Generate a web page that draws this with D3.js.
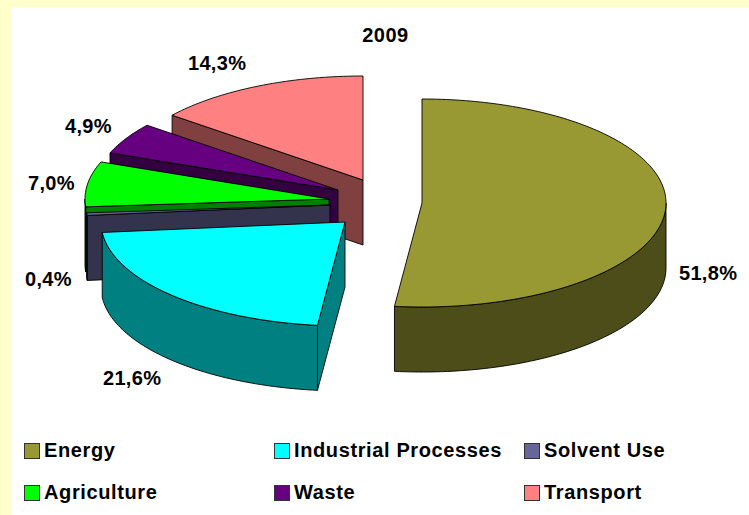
<!DOCTYPE html>
<html>
<head>
<meta charset="utf-8">
<script src="https://cdn.jsdelivr.net/npm/d3@7"></script>
<style>
html,body{margin:0;padding:0;background:#fff;overflow:hidden}
svg{display:block}
text{font-family:"Liberation Sans",Arial,sans-serif;font-weight:bold;fill:#000}
</style>
</head>
<body>
<div id="chart"></div>
<script>
const title = "2009";
const categories = ["Energy","Industrial Processes","Solvent Use","Agriculture","Waste","Transport"];
const values = [51.8,21.6,0.4,7.0,4.9,14.3];
const valueLabels = ["51,8%","21,6%","0,4%","7,0%","4,9%","14,3%"];
const topColors = ["#999933","#00FFFF","#666699","#00FF00","#660080","#FF8080"];
const sideColors = ["#4D4D19","#008080","#33334D","#008000","#330040","#804040"];

// layout (separate from data)
const W = 749, H = 515;
const RX = 244, RY = 104, DEPTH = 65;
const apexX = [422,345,330,329,338,363];
const apexY = [203,222,205,199,190,180];
const labelX = [679,103,25,28,65,188];
const labelY = [280,385,286,190,133,70];
const legendX = [24,274,524,24,274,524];
const legendY = [443,443,443,485,485,485];
const drawOrder = [5,4,3,2,0,1];

const svg = d3.select("#chart").append("svg").attr("width",W).attr("height",H);
svg.append("rect").attr("width",W).attr("height",H).attr("fill","#FFFFCC");
svg.append("rect").attr("x",12).attr("y",7).attr("width",W-12).attr("height",H-7).attr("fill","#fff");

const arcs = d3.pie().sort(null).value(d=>d).startAngle(0).endAngle(2*Math.PI)(values);
const sx = d3.scaleLinear().domain([-1,1]).range([-RX,RX]);
const sy = d3.scaleLinear().domain([-1,1]).range([RY,-RY]);
const line = d3.line().x(d=>d[0]).y(d=>d[1]);

function rim(i,a0,a1,dy=0){
  const n = Math.max(2,Math.ceil((a1-a0)/0.02));
  return d3.range(n+1).map(k=>{
    const a = a0+(a1-a0)*k/n;
    return [apexX[i]+sx(Math.sin(a)), apexY[i]+sy(Math.cos(a))+dy];
  });
}
const drawPoly = (pts,fill)=>svg.append("path").attr("d",line(pts)+"Z")
  .attr("fill",fill).attr("stroke","#000").attr("stroke-width",0.9).attr("stroke-linejoin","round");

drawOrder.forEach(i=>{
  const {startAngle:a0,endAngle:a1} = arcs[i];
  const apex = [apexX[i],apexY[i]];
  const apexB = [apexX[i],apexY[i]+DEPTH];
  // cut face at the start angle, seen from the front on slices past the bottom of the pie
  if(a0>Math.PI){
    const p = rim(i,a0,a0)[0];
    drawPoly([apex,p,[p[0],p[1]+DEPTH],apexB],sideColors[i]);
  }
  // outer wall, front half only
  const lo = Math.max(a0,Math.PI/2), hi = Math.min(a1,1.5*Math.PI);
  if(hi>lo){
    drawPoly(rim(i,lo,hi).concat(rim(i,lo,hi,DEPTH).reverse()),sideColors[i]);
  }
  // top face
  drawPoly([apex].concat(rim(i,a0,a1)),topColors[i]);
});

svg.append("text").attr("x",385.5).attr("y",42).attr("text-anchor","middle")
  .attr("font-size",20).attr("letter-spacing",0.5).text(title);
svg.selectAll("text.lab").data(valueLabels).enter().append("text").attr("class","lab")
  .attr("x",(d,i)=>labelX[i]).attr("y",(d,i)=>labelY[i])
  .attr("font-size",20).attr("letter-spacing",0.3).text(d=>d);

const lg = svg.selectAll("g.lg").data(categories).enter().append("g").attr("class","lg")
  .attr("transform",(d,i)=>`translate(${legendX[i]},${legendY[i]})`);
lg.append("rect").attr("x",0.5).attr("y",0.5).attr("width",15).attr("height",15)
  .attr("fill",(d,i)=>topColors[i]).attr("stroke","#333").attr("stroke-width",1);
lg.append("text").attr("x",20).attr("y",14).attr("font-size",20).attr("letter-spacing",0.62).text(d=>d);
</script>
</body>
</html>
